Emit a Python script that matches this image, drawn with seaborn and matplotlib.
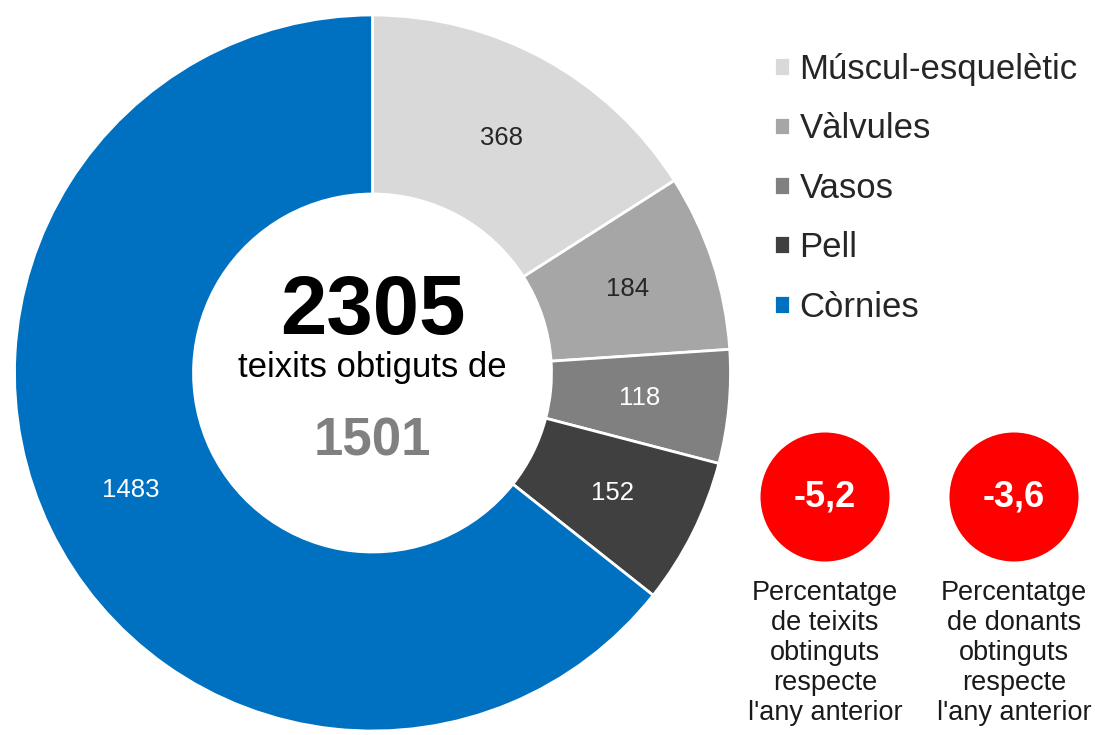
import matplotlib
matplotlib.use("Agg")
import matplotlib.pyplot as plt
from matplotlib.patches import Circle
import seaborn as sns

# Tissue types and counts
categories = ["Múscul-esquelètic", "Vàlvules", "Vasos", "Pell", "Còrnies"]
counts = [368, 184, 118, 152, 1483]
colors = ["#D9D9D9", "#A6A6A6", "#808080", "#404040", "#0070C0"]
label_colors = ["#262626", "#262626", "white", "white", "white"]

total_tissues = 2305
donors = 1501

# Year-on-year change (%)
change_values = [-5.2, -3.6]
change_captions = [
    "Percentatge\nde teixits\nobtinguts\nrespecte\nl'any anterior",
    "Percentatge\nde donants\nobtinguts\nrespecte\nl'any anterior",
]

sns.set_theme(style="white")
plt.rcParams["font.family"] = ["Liberation Sans", "DejaVu Sans"]

W, H = 1095, 735
fig = plt.figure(figsize=(W / 100, H / 100), dpi=100)

# Donut axes
cx, cy, R = 372.5, 373, 358
ax = fig.add_axes([(cx - R) / W, (H - cy - R) / H, 2 * R / W, 2 * R / H])
total = sum(counts)
wedges, texts, autotexts = ax.pie(
    counts,
    colors=colors,
    startangle=90,
    counterclock=False,
    radius=1.0,
    autopct=lambda p: f"{p * total / 100:.0f}",
    pctdistance=0.75,
    wedgeprops=dict(width=0.5, edgecolor="white", linewidth=2),
    textprops=dict(fontsize=18.5),
)
for t, c in zip(autotexts, label_colors):
    t.set_color(c)
ax.set_xlim(-1, 1)
ax.set_ylim(-1, 1)
ax.set_aspect("equal")
ax.axis("off")

# Centre text
ax.text(0, 0.17, f"{total_tissues}", ha="center", va="center",
        fontsize=60, fontweight="bold", color="black")
ax.text(0, 0.015, "teixits obtiguts de", ha="center", va="center",
        fontsize=25, color="black")
ax.text(0, -0.19, f"{donors}", ha="center", va="center",
        fontsize=38, fontweight="bold", color="#808080")

# Legend
leg = fig.legend(
    wedges, categories,
    loc="upper left", bbox_to_anchor=(774 / W, 1 - 53 / H),
    frameon=False, fontsize=25,
    handlelength=0.45, handleheight=0.45, handletextpad=0.28,
    labelspacing=0.76, borderaxespad=0, borderpad=0,
)

# Overlay in pixel coordinates for the change indicators
ov = fig.add_axes([0, 0, 1, 1])
ov.set_xlim(0, W)
ov.set_ylim(H, 0)
ov.axis("off")
ov.patch.set_alpha(0)

centers_x = [825, 1014]
for x, v, cap in zip(centers_x, change_values, change_captions):
    ov.add_patch(Circle((x, 497), 64.5, color="#FF0000", lw=0))
    ov.text(x, 497, f"{v:.1f}".replace(".", ","), ha="center", va="center",
            fontsize=26, fontweight="bold", color="white")
    ov.text(x, 580, cap, ha="center", va="top", fontsize=19.5,
            color="#1a1a1a", linespacing=1.2)

fig.savefig("out.png", dpi=100, facecolor="white")
